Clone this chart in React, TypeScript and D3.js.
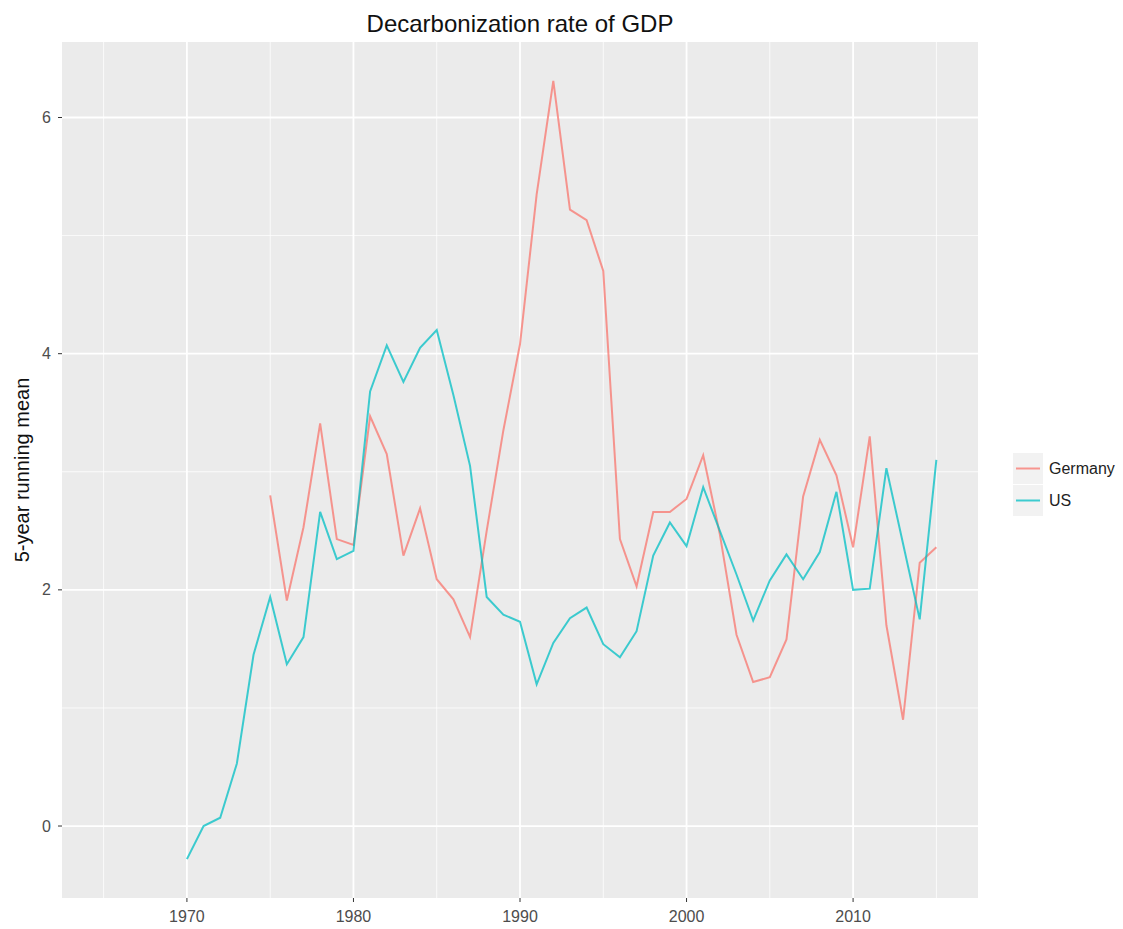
import React from "react";
import * as d3 from "d3";

// years 1970-2015
const years = d3.range(1970, 2016);

const usValues = [
  -0.28, 0.0, 0.07, 0.53, 1.45, 1.94, 1.37, 1.6, 2.66, 2.26, 2.33, 3.68, 4.07,
  3.76, 4.05, 4.2, 3.65, 3.05, 1.94, 1.79, 1.73, 1.2, 1.55, 1.76, 1.85, 1.54,
  1.43, 1.65, 2.29, 2.57, 2.37, 2.87, 2.5, 2.13, 1.74, 2.08, 2.3, 2.09, 2.32,
  2.83, 2.0, 2.01, 3.03, 2.39, 1.75, 3.1,
];

// Germany starts in 1975
const germanyValues: (number | null)[] = [
  null, null, null, null, null,
  2.8, 1.91, 2.53, 3.41, 2.43, 2.38, 3.47, 3.15, 2.29, 2.69, 2.09, 1.92, 1.6,
  2.5, 3.35, 4.08, 5.35, 6.31, 5.22, 5.13, 4.7, 2.43, 2.03, 2.66, 2.66, 2.77,
  3.14, 2.47, 1.62, 1.22, 1.26, 1.58, 2.79, 3.27, 2.97, 2.36, 3.3, 1.7, 0.9,
  2.23, 2.36,
];

const seriesNames = ["Germany", "US"];
const seriesColors = ["#F8766D", "#00BFC4"];
const xTicks = [1970, 1980, 1990, 2000, 2010];
const xMinor = [1965, 1975, 1985, 1995, 2005, 2015];
const yTicks = [0, 2, 4, 6];
const yMinor = [1, 3, 5];

const W = 1123;
const H = 929;
const panel = { left: 62, right: 978, top: 42, bottom: 898 };

export default function App() {
  // ggplot-style 5% expansion; x range includes 1965
  const xr = [1965, 2015];
  const xPad = (xr[1] - xr[0]) * 0.05;
  const x = d3
    .scaleLinear()
    .domain([xr[0] - xPad, xr[1] + xPad])
    .range([panel.left, panel.right]);

  const all = [...usValues, ...(germanyValues.filter((v) => v != null) as number[])];
  const [ymin, ymax] = d3.extent(all) as [number, number];
  const yPad = (ymax - ymin) * 0.05;
  const y = d3
    .scaleLinear()
    .domain([ymin - yPad, ymax + yPad])
    .range([panel.bottom, panel.top]);

  const line = d3
    .line<[number, number | null]>()
    .defined((d) => d[1] != null)
    .x((d) => x(d[0]))
    .y((d) => y(d[1] as number));

  const series = [germanyValues, usValues].map((vals) =>
    years.map((yr, i) => [yr, vals[i]] as [number, number | null])
  );

  const font = "'Liberation Sans', Arial, sans-serif";

  return (
    <svg
      width={W}
      height={H}
      style={{ position: "absolute", left: 0, top: 0, background: "#fff" }}
      fontFamily={font}
    >
      <text x={(panel.left + panel.right) / 2} y={32} textAnchor="middle" fontSize={24} fill="#111">
        Decarbonization rate of GDP
      </text>

      <rect
        x={panel.left}
        y={panel.top}
        width={panel.right - panel.left}
        height={panel.bottom - panel.top}
        fill="#EBEBEB"
      />

      {/* minor grid */}
      {yMinor.map((t) => (
        <line key={"ym" + t} x1={panel.left} x2={panel.right} y1={y(t)} y2={y(t)} stroke="#fff" strokeWidth={1} opacity={0.8} />
      ))}
      {xMinor.map((t) => (
        <line key={"xm" + t} x1={x(t)} x2={x(t)} y1={panel.top} y2={panel.bottom} stroke="#fff" strokeWidth={1} opacity={0.8} />
      ))}
      {/* major grid */}
      {yTicks.map((t) => (
        <line key={"y" + t} x1={panel.left} x2={panel.right} y1={y(t)} y2={y(t)} stroke="#fff" strokeWidth={1.8} />
      ))}
      {xTicks.map((t) => (
        <line key={"x" + t} x1={x(t)} x2={x(t)} y1={panel.top} y2={panel.bottom} stroke="#fff" strokeWidth={1.8} />
      ))}

      {series.map((s, i) => (
        <path key={seriesNames[i]} d={line(s) || ""} fill="none" stroke={seriesColors[i]} strokeWidth={2} strokeOpacity={0.75} />
      ))}

      {/* axes */}
      {yTicks.map((t) => (
        <g key={"yt" + t}>
          <line x1={panel.left - 4} x2={panel.left} y1={y(t)} y2={y(t)} stroke="#333" strokeWidth={1} />
          <text x={panel.left - 11} y={y(t)} dy="0.35em" textAnchor="end" fontSize={16} fill="#4D4D4D">
            {t}
          </text>
        </g>
      ))}
      {xTicks.map((t) => (
        <g key={"xt" + t}>
          <line x1={x(t)} x2={x(t)} y1={panel.bottom} y2={panel.bottom + 4} stroke="#333" strokeWidth={1} />
          <text x={x(t)} y={panel.bottom + 24} textAnchor="middle" fontSize={16} fill="#4D4D4D">
            {t}
          </text>
        </g>
      ))}

      <text
        transform={`translate(29, ${(panel.top + panel.bottom) / 2}) rotate(-90)`}
        textAnchor="middle"
        fontSize={20}
        fill="#111"
      >
        5-year running mean
      </text>

      {/* legend */}
      {seriesNames.map((name, i) => (
        <g key={"lg" + name} transform={`translate(1013, ${453 + i * 32})`}>
          <rect width={30} height={31} fill="#F2F2F2" />
          <line x1={3} x2={27} y1={15.5} y2={15.5} stroke={seriesColors[i]} strokeWidth={2} strokeOpacity={0.75} />
          <text x={36} y={15.5} dy="0.35em" fontSize={16} fill="#222">
            {name}
          </text>
        </g>
      ))}
    </svg>
  );
}
